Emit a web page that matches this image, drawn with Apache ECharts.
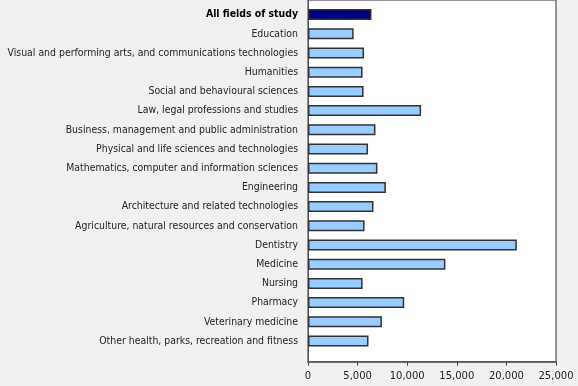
<!DOCTYPE html>
<html><head><meta charset="utf-8">
<script src="https://cdn.jsdelivr.net/npm/echarts@6/dist/echarts.min.js"></script>
<style>html,body{margin:0;padding:0;background:#f0f0f0}#c{width:578px;height:386px}</style>
</head><body><div id="c"></div>
<script>
const categories = [
  "All fields of study",
  "Education",
  "Visual and performing arts, and communications technologies",
  "Humanities",
  "Social and behavioural sciences",
  "Law, legal professions and studies",
  "Business, management and public administration",
  "Physical and life sciences and technologies",
  "Mathematics, computer and information sciences",
  "Engineering",
  "Architecture and related technologies",
  "Agriculture, natural resources and conservation",
  "Dentistry",
  "Medicine",
  "Nursing",
  "Pharmacy",
  "Veterinary medicine",
  "Other health, parks, recreation and fitness"
];
const values = [6400, 4600, 5650, 5500, 5600, 11400, 6800, 6050, 7000, 7850, 6600, 5700, 21050, 13850, 5500, 9700, 7450, 6100];
const xTicks = [0, 5000, 10000, 15000, 20000, 25000];

const FONT = "DejaVu Sans Condensed";
const chart = echarts.init(document.getElementById('c'), null, {renderer: 'canvas'});
const fmt = v => v.toLocaleString('en-US');

chart.setOption({
  animation: false,
  backgroundColor: '#f0f0f0',
  grid: [
    {left: 308, right: 22, top: 5, height: 345.6, containLabel: false},
    {left: 308, right: 22, top: -2, height: 363.7, show: true, backgroundColor: '#ffffff', borderColor: '#707070', borderWidth: 1.5, z: 0}
  ],
  xAxis: [
    {gridIndex: 0, type: 'value', min: xTicks[0], max: xTicks[xTicks.length-1], interval: 5000, show: false},
    {gridIndex: 1, type: 'value', min: xTicks[0], max: xTicks[xTicks.length-1], interval: 5000,
     axisLine: {show: true, lineStyle: {color: '#555', width: 1.5}},
     axisTick: {show: true, length: 4, inside: false, lineStyle: {color: '#444', width: 1}},
     splitLine: {show: false},
     axisLabel: {color: '#222', fontFamily: 'DejaVu Sans', fontSize: 10, margin: 10, formatter: fmt}}
  ],
  yAxis: [
    {gridIndex: 0, type: 'category', data: categories, inverse: true,
     axisLine: {show: false}, axisTick: {show: false},
     axisLabel: {color: '#222', fontFamily: FONT, fontSize: 10.4, margin: 10,
       formatter: (v, i) => i === 0 ? '{b|' + v + '}' : v,
       rich: {b: {fontWeight: 'bold', fontFamily: FONT, fontSize: 10.4, color: '#000'}}}},
    {gridIndex: 1, type: 'value', min: 0, max: 1, axisLabel: {show: false}, axisTick: {show: false},
     splitLine: {show: false}, axisLine: {show: true, onZero: false, lineStyle: {color: '#555', width: 1}}}
  ],
  series: [{
    type: 'bar', xAxisIndex: 0, yAxisIndex: 0, barWidth: 11,
    data: values.map((v, i) => ({value: v, itemStyle: {color: i === 0 ? '#000080' : '#99ccff'}})),
    itemStyle: {borderColor: '#333', borderWidth: 1.5}
  }]
});
</script></body></html>
